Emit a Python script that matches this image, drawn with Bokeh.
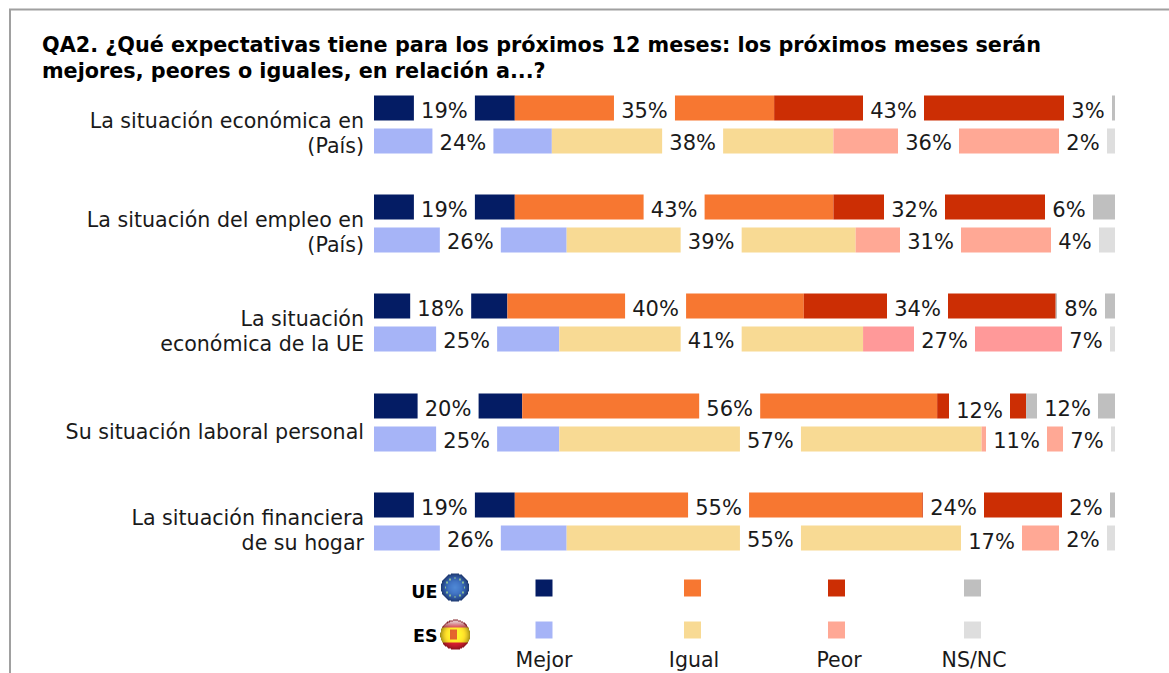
import numpy as np
from bokeh.plotting import figure
from bokeh.models import Range1d
from bokeh.core.properties import value
from bokeh.embed import file_html
from bokeh.resources import INLINE

# ---- data ----
categories = [
    ["La situación económica en", "(País)"],
    ["La situación del empleo en", "(País)"],
    ["La situación", "económica de la UE"],
    ["Su situación laboral personal"],
    ["La situación financiera", "de su hogar"],
]
ue_mejor = [19, 19, 18, 20, 19]
ue_igual = [35, 43, 40, 56, 55]
ue_peor = [43, 32, 34, 12, 24]
ue_nsnc = [3, 6, 8, 12, 2]
es_mejor = [24, 26, 25, 25, 26]
es_igual = [38, 39, 41, 57, 55]
es_peor = [36, 31, 27, 11, 17]
es_nsnc = [2, 4, 7, 7, 2]
legend_labels = ["Mejor", "Igual", "Peor", "NS/NC"]
title_lines = [
    "QA2. ¿Qué expectativas tiene para los próximos 12 meses: los próximos meses serán",
    "mejores, peores o iguales, en relación a...?",
]

# ---- layout (page pixels) ----
XOFF, YOFF = 0.5, 1
W, H = 1169, 673
X0, X100 = 374, 1115
PX = (X100 - X0) / 100
ROW_TOP = [96, 195, 294, 394, 493]
BAR_H, ES_STEP = 25, 33
ue_colors = ["#041C64", "#F77731", "#CC2E04", "#BFBFBF"]
es_colors = ["#A6B4F7", "#F8DA94", "#FFA895", "#DEDEDE"]
es_peor_colors = ["#FFA895", "#FFA895", "#FF9999", "#FFA895", "#FFA895"]
TXT = "#1a1a1a"
FONT = value("DejaVu Sans")
FS = "21px"
TDY = -7  # baseline correction for the svg text

# label box centres for the third and fourth labels (the first two sit mid-segment)
ue_peor_box = [893.5, 914.5, 917.5, 979.5, 953.5]
es_peor_box = [928.5, 930.5, 944.5, 1016.5, 991.5]
ue_ns_box = [1088, 1069, 1081, 1067.5, 1086]
es_ns_box = [1083, 1075, 1086, 1087, 1083]
ue_ns_w = [48, 48, 48, 61, 48]
es_ns_w = [48, 48, 48, 48, 48]
ue_peor_dy = [0, 0, 0, 2, 0]
es_peor_dy = [0, 0, 0, 0, 2]

p = figure(width=W, height=H, output_backend="svg", toolbar_location=None,
           x_range=Range1d((XOFF - X0) / PX, (XOFF + W - X0) / PX),
           y_range=Range1d(YOFF + H, YOFF), min_border=0,
           x_axis_type="linear", y_axis_type="linear")
p.xaxis.visible = False
p.yaxis.visible = False
p.grid.visible = False
p.outline_line_color = None
p.background_fill_color = "#FFFFFF"


def px_to_x(px):
    return (px - X0) / PX


# frame
p.line([px_to_x(10), px_to_x(10)], [YOFF + H, 10], line_color="#A0A0A0", line_width=2)
p.line([px_to_x(9), px_to_x(1170)], [10, 10], line_color="#A0A0A0", line_width=2)

# title
p.text(px_to_x(42), 52 + TDY, text=[title_lines[0]], text_font=FONT, text_font_style="bold",
       text_font_size="20.75px", text_color="#000000", text_baseline="alphabetic")
p.text(px_to_x(42), 78 + TDY, text=[title_lines[1]], text_font=FONT, text_font_style="bold",
       text_font_size="20.75px", text_color="#000000", text_baseline="alphabetic")


def draw_series(series, colors, ys, peor_box, ns_box, ns_w, peor_dy, text_dy, per_row_peor=None):
    left = np.zeros(5)
    for k, vals in enumerate(series):
        vals = np.array(vals, dtype=float)
        col = colors[k] if not (k == 2 and per_row_peor) else per_row_peor
        p.hbar(y=ys, left=left, right=left + vals, height=BAR_H, fill_color=col, line_color=None)
        left = left + vals
    left = np.zeros(5)
    for k, vals in enumerate(series):
        vals = np.array(vals, dtype=float)
        if k < 2:
            cx = (left + vals / 2).tolist()
            w = [61 / PX] * 5
            dy = [0] * 5
        elif k == 2:
            cx = [px_to_x(c) for c in peor_box]
            w = [61 / PX] * 5
            dy = peor_dy
        else:
            cx = [px_to_x(c) for c in ns_box]
            w = [b / PX for b in ns_w]
            dy = [0] * 5
        p.hbar(y=ys, left=[c - a / 2 for c, a in zip(cx, w)], right=[c + a / 2 for c, a in zip(cx, w)],
               height=BAR_H + 1, fill_color="#FFFFFF", line_color=None)
        p.text(x=cx, y=[a + 8.5 + d + TDY + text_dy for a, d in zip(ys, dy)], text=[f"{int(v)}%" for v in vals],
               text_font=FONT, text_font_size=FS, text_color=TXT,
               text_align="center", text_baseline="alphabetic")
        left = left + vals


ys_ue = [t + BAR_H / 2 for t in ROW_TOP]
ys_es = [t + ES_STEP + BAR_H / 2 for t in ROW_TOP]
draw_series([ue_mejor, ue_igual, ue_peor, ue_nsnc], ue_colors, ys_ue, ue_peor_box, ue_ns_box, ue_ns_w, ue_peor_dy, 1)
draw_series([es_mejor, es_igual, es_peor, es_nsnc], es_colors, ys_es, es_peor_box, es_ns_box, es_ns_w, es_peor_dy, 0,
            per_row_peor=es_peor_colors)

# category labels
for top, lines in zip(ROW_TOP, categories):
    mid = top + (ES_STEP + BAR_H) / 2
    for j, line in enumerate(lines):
        base = mid + 8 + (j - (len(lines) - 1) / 2) * 25 + TDY + 8
        p.text(px_to_x(364), base, text=[line], text_font=FONT, text_font_size="20.6px", text_color=TXT,
               text_align="right", text_baseline="alphabetic")

# legend
leg_x = [544, 692.5, 836.5, 972.5]
leg_lab_x = [544, 694, 839, 974]
for cx, lab_x, uc, ec, lab in zip(leg_x, leg_lab_x, ue_colors, es_colors, legend_labels):
    p.rect(px_to_x(cx), 588.5, width=17 / PX, height=17, fill_color=uc, line_color=None)
    p.rect(px_to_x(cx), 630.5, width=17 / PX, height=17, fill_color=ec, line_color=None)
    p.text(px_to_x(lab_x), 667 + TDY, text=[lab], text_font=FONT, text_font_size="20.5px", text_color=TXT,
           text_align="center", text_baseline="alphabetic")
p.text(px_to_x(437.5), 599 + TDY, text=["UE"], text_font=FONT, text_font_style="bold", text_font_size="17.5px",
       text_color="#000000", text_align="right", text_baseline="alphabetic")
p.text(px_to_x(437.5), 643 + TDY, text=["ES"], text_font=FONT, text_font_style="bold", text_font_size="17.5px",
       text_color="#000000", text_align="right", text_baseline="alphabetic")


# flags: small shaded discs
def flag(kind, n=60):
    yy, xx = np.mgrid[0:n, 0:n]
    u = (xx + .5) / n * 2 - 1
    v = (yy + .5) / n * 2 - 1  # v = -1 is the top of the disc on screen
    r = np.hypot(u, v)
    img = np.zeros((n, n, 4), dtype=np.uint8)
    shade = np.clip(1.15 - 0.5 * r ** 3, 0, 1.2)
    if kind == "UE":
        rgb = np.stack([45 + 25 * (1 - r), 85 + 35 * (1 - r), 165 + 20 * (1 - r)], -1)
        for a in np.arange(12) * np.pi / 6:
            d = np.hypot(u - 0.68 * np.cos(a), v - 0.68 * np.sin(a))
            rgb[d < 0.08] = (140, 190, 150)
        gloss = 0.0
    else:
        rgb = np.zeros((n, n, 3))
        rgb[:] = (245, 215, 40)
        rgb[v > 0.5] = (205, 30, 45)
        rgb[v < -0.5] = (200, 60, 70)
        d = (np.abs(u + 0.1) < 0.24) & (v > -0.35) & (v < 0.3)
        rgb[d] = (200, 90, 40)
        gloss = 0.7
    rgb = np.clip(rgb * shade[..., None], 0, 255)
    if gloss:
        g = gloss * np.clip((-0.45 - v) / 0.4, 0, 1) * (r < 0.93)
        rgb = rgb * (1 - g[..., None]) + 255 * g[..., None]
    img[..., :3] = rgb.astype(np.uint8)
    img[..., 3] = np.where(r <= 1, 255, 0)
    view = (img[..., 3].astype(np.uint32) << 24) | (img[..., 2].astype(np.uint32) << 16) | \
           (img[..., 1].astype(np.uint32) << 8) | img[..., 0].astype(np.uint32)
    return view


p.image_rgba(image=[flag("UE")], x=px_to_x(441), y=574, dw=28 / PX, dh=28)
p.image_rgba(image=[flag("ES")], x=px_to_x(440), y=620, dw=30 / PX, dh=30)

open("out.html", "w").write(file_html(p, INLINE))
